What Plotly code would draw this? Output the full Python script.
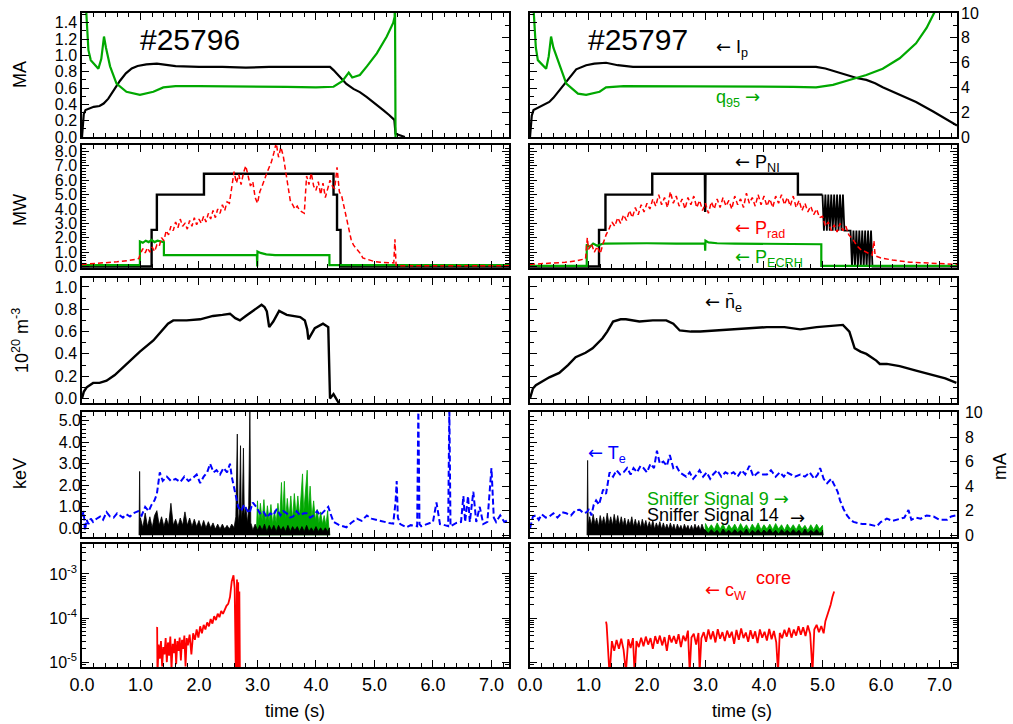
import plotly.graph_objects as go

W, H = 1013, 724
FONT = "Liberation Sans, Arial, Helvetica, sans-serif"
ARROW_FONT = "DejaVu Sans"
BLACK, GREEN, RED, BLUE = "#000000", "#00a800", "#ff0000", "#0000ff"

# ======================= shot #25796 =======================
# plasma current Ip (MA) and q95
t_ip_a = [0.0, 0.03, 0.06, 0.12, 0.2, 0.3, 0.37, 0.45, 0.54, 0.65, 0.75, 0.85, 0.95, 1.1, 1.28,
          1.45, 1.6, 2.0, 2.4, 2.8, 3.2, 3.6, 4.0, 4.24, 4.3, 4.4, 4.52, 4.64, 4.75, 4.87, 5.0,
          5.15, 5.25, 5.34, 5.36, 5.45, 5.52]
ip_a = [0.0, 0.28, 0.33, 0.35, 0.37, 0.38, 0.41, 0.47, 0.57, 0.69, 0.78, 0.84, 0.87, 0.89, 0.9,
        0.88, 0.87, 0.86, 0.86, 0.85, 0.86, 0.86, 0.86, 0.86, 0.82, 0.74, 0.65, 0.59, 0.55, 0.49, 0.42,
        0.33, 0.27, 0.21, 0.04, 0.02, 0.0]
t_q_a = [0.05, 0.08, 0.11, 0.15, 0.2, 0.28, 0.33, 0.376, 0.41, 0.48, 0.59, 0.76, 0.99, 1.22, 1.39,
         1.6, 2.0, 2.5, 3.0, 3.5, 4.0, 4.3, 4.45, 4.56, 4.62, 4.75, 4.87, 5.04, 5.21, 5.32,
         5.345, 5.35, 5.36]
q_a = [12.0, 9.0, 7.0, 6.2, 5.9, 5.5, 6.3, 8.1, 7.2, 5.7, 4.3, 3.65, 3.4, 3.65, 4.0,
       4.1, 4.1, 4.1, 4.05, 4.05, 4.0, 4.05, 4.5, 5.2, 4.8, 5.0, 5.7, 6.75, 8.1, 9.2,
       9.7, 12.0, 0.0]

# heating and radiated power (MW)
t_pni_a = [0.0, 1.19, 1.19, 1.28, 1.28, 2.085, 2.085, 4.30, 4.30, 4.36, 4.36, 4.42, 4.42, 7.3]
pni_a = [0.0, 0.0, 2.55, 2.55, 5.0, 5.0, 6.45, 6.45, 5.0, 5.0, 2.55, 2.55, 0.0, 0.0]
t_pec_a = [0.0, 0.99, 0.99, 1.04, 1.09, 1.14, 1.19, 1.24, 1.29, 1.34, 1.40, 1.40, 1.8, 2.3, 2.7,
           2.99, 2.995, 3.0, 3.05, 3.15, 3.3, 3.6, 4.0, 4.23, 4.23, 7.3]
pec_a = [0.1, 0.1, 1.75, 1.65, 1.8, 1.7, 1.85, 1.7, 1.8, 1.75, 1.7, 0.8, 0.8, 0.8, 0.8,
         0.8, 0.0, 1.05, 0.95, 0.85, 0.8, 0.8, 0.8, 0.8, 0.1, 0.1]
t_prad_a = [0.0, 0.2, 0.4, 0.6, 0.8, 0.97,
            1.00, 1.04, 1.08, 1.12, 1.16, 1.20, 1.24, 1.28, 1.32, 1.36,
            1.40, 1.44, 1.48, 1.52, 1.56, 1.60, 1.64, 1.68, 1.72, 1.76,
            1.80, 1.84, 1.88, 1.92, 1.96, 2.00, 2.04, 2.08, 2.12, 2.16,
            2.20, 2.24, 2.28, 2.32, 2.36, 2.40, 2.44, 2.48, 2.52, 2.56,
            2.60, 2.64, 2.68, 2.72, 2.76, 2.80, 2.84, 2.88, 2.92, 2.96,
            3.00, 3.04, 3.08, 3.12, 3.16, 3.20, 3.24, 3.28, 3.32, 3.36,
            3.40, 3.44, 3.48, 3.52, 3.56, 3.60, 3.64, 3.68, 3.72, 3.76,
            3.80, 3.84, 3.88, 3.92, 3.96, 4.00, 4.04, 4.08, 4.12, 4.16,
            4.20, 4.24, 4.28, 4.32, 4.36, 4.40, 4.44, 4.48, 4.52, 4.56,
            4.60, 4.64, 4.68, 4.72, 4.76, 4.80,
            4.90, 5.00, 5.10, 5.20, 5.33, 5.35, 5.37, 5.45, 6.0, 7.3]
prad_a = [0.15, 0.2, 0.27, 0.33, 0.42, 0.55,
          0.9, 1.25, 0.95, 1.3, 1.0, 1.35, 1.05, 1.5, 1.4, 2.0,
          1.8, 2.5, 2.2, 2.8, 2.5, 3.1, 2.7, 3.3, 2.8, 3.0,
          2.6, 3.2, 2.8, 3.4, 2.9, 3.3, 3.0, 3.5, 3.1, 3.7,
          3.3, 3.9, 3.4, 4.0, 3.7, 4.3, 3.9, 4.5, 4.4, 5.6,
          6.6, 5.8, 6.4, 5.7, 6.5, 7.0, 6.2, 5.6, 5.9, 4.8,
          4.4, 5.2, 5.6, 6.1, 6.5, 6.9, 7.3, 7.9, 8.6, 7.6,
          8.3, 7.7, 6.6, 5.5, 4.6, 4.3, 4.0, 4.2, 3.9, 3.8,
          3.7, 6.3, 5.7, 6.5, 5.6, 5.3, 5.9, 5.0, 5.8, 4.8,
          5.5, 6.0, 5.6, 5.4, 6.9, 5.2, 4.9, 4.2, 3.4, 2.6,
          1.9, 1.5, 1.3, 1.1, 0.9, 0.6,
          0.45, 0.35, 0.3, 0.28, 0.25, 1.9, 0.08, 0.05, 0.05, 0.05]

# line-averaged density (1e20 m^-3)
t_ne_a = [0.0, 0.03, 0.08, 0.19, 0.3, 0.42, 0.56, 0.76, 0.99, 1.22, 1.39, 1.47, 1.56, 1.79, 2.02,
          2.24, 2.4, 2.53, 2.62, 2.7, 2.8, 2.93, 3.07, 3.12, 3.16, 3.2, 3.27, 3.37, 3.5, 3.73,
          3.81, 3.85, 3.87, 3.98, 4.12, 4.21, 4.225, 4.24, 4.3, 4.35, 4.4]
ne_a = [0.0, 0.06, 0.1, 0.14, 0.14, 0.16, 0.21, 0.31, 0.42, 0.52, 0.62, 0.67, 0.70, 0.70, 0.71,
        0.74, 0.75, 0.76, 0.72, 0.70, 0.74, 0.79, 0.84, 0.82, 0.78, 0.64, 0.69, 0.785, 0.75, 0.73,
        0.70, 0.62, 0.53, 0.63, 0.67, 0.64, 0.30, 0.0, 0.04, 0.0, -0.05]

# electron temperature (keV)
t_te_a = [0.0, 0.03, 0.05, 0.08, 0.11, 0.15, 0.19, 0.25, 0.31, 0.36,
          0.42, 0.48, 0.54, 0.6, 0.65, 0.7, 0.76, 0.82, 0.88, 0.96,
          1.02, 1.08, 1.14, 1.19, 1.24, 1.28, 1.33, 1.38, 1.45, 1.52,
          1.6, 1.68, 1.75, 1.82, 1.9, 1.96, 2.02, 2.08, 2.14, 2.19,
          2.25, 2.3, 2.36, 2.42, 2.48, 2.53, 2.56, 2.59, 2.64, 2.67,
          2.72, 2.77, 2.81, 2.86, 2.92, 2.98, 3.04, 3.1, 3.16, 3.22,
          3.27, 3.33, 3.39, 3.44, 3.5, 3.56, 3.61, 3.67, 3.73, 3.79,
          3.84, 3.9, 3.96, 4.02, 4.07, 4.14, 4.21, 4.26, 4.3, 4.4,
          4.52, 4.6, 4.7, 4.78, 4.87, 4.95, 5.04, 5.15, 5.25, 5.32,
          5.36, 5.38, 5.4, 5.44, 5.5, 5.55, 5.62, 5.7, 5.73, 5.75,
          5.77, 5.8, 5.9, 6.0, 6.06, 6.12, 6.2, 6.26, 6.28, 6.3,
          6.4, 6.48, 6.52, 6.55, 6.6, 6.63, 6.69, 6.74, 6.8, 6.86,
          6.93, 7.0, 7.04, 7.08, 7.15, 7.22, 7.3]
te_a = [0.55, 0.8, -0.1, 0.4, 0.2, 0.45, 0.3, 0.45, 0.55, 0.4,
        0.75, 0.55, 0.5, 0.7, 0.6, 0.5, 0.65, 0.55, 0.7, 0.8,
        0.6, 1.0, 0.8, 1.1, 1.3, 1.6, 2.6, 2.2, 2.4, 2.2,
        2.3, 2.15, 2.4, 2.2, 2.35, 2.5, 2.1, 2.4, 2.6, 3.0,
        2.6, 2.7, 2.5, 2.8, 2.6, 3.0, 2.4, 2.0, 1.4, 1.0,
        0.8, 1.1, 0.9, 0.7, 1.2, 1.0, 0.7, 0.8, 0.5, 0.7,
        0.6, 0.9, 0.6, 0.8, 0.7, 0.5, 0.55, 0.8, 0.6, 0.7,
        0.7, 0.5, 0.6, 0.8, 0.6, 0.8, 1.0, 0.6, 0.3, 0.15,
        0.05, 0.25, 0.45, 0.35, 0.6, 0.45, 0.38, 0.3, 0.25, 0.22,
        1.2, 2.2, 0.5, 0.2, 0.1, 0.05, 0.15, 0.1, 0.1, 5.6,
        0.2, 0.1, 0.2, 0.3, 1.2, 0.2, 0.15, 0.1, 5.6, 0.1,
        0.25, 0.3, 1.5, 0.3, 1.5, 0.3, 1.7, 0.3, 1.0, 0.2,
        0.3, 2.8, 0.5, 0.3, 0.6, 0.3, 0.4]

# sniffer probe signals (mA)
t_s14_a = [0.975, 0.985, 0.995,
           1.00, 1.04, 1.08, 1.12, 1.16, 1.20, 1.24, 1.28, 1.32, 1.36,
           1.40, 1.44, 1.48, 1.52, 1.56, 1.60, 1.64, 1.68, 1.72, 1.76,
           1.80, 1.84, 1.88, 1.92, 1.96, 2.00, 2.04, 2.08, 2.12, 2.16,
           2.20, 2.24, 2.28, 2.32, 2.36, 2.40, 2.44, 2.48, 2.52, 2.56,
           2.60, 2.63, 2.655, 2.67, 2.69, 2.71, 2.725, 2.74, 2.76, 2.775,
           2.80, 2.83, 2.85, 2.87, 2.885, 2.90,
           2.92, 2.96, 3.00, 3.04, 3.08, 3.12, 3.16, 3.20, 3.24, 3.28,
           3.32, 3.36, 3.40, 3.44, 3.48, 3.52, 3.56, 3.60, 3.64, 3.68,
           3.72, 3.76, 3.80, 3.84, 3.88, 3.92, 3.96, 4.00, 4.04, 4.08,
           4.12, 4.16, 4.20, 4.23, 4.235]
s14_a = [0.0, 5.2, 0.5,
         1.4, 0.6, 1.8, 0.7, 1.5, 0.6, 1.6, 2.0, 0.8, 1.5,
         0.7, 1.4, 0.8, 2.6, 0.8, 1.3, 0.7, 1.4, 0.8, 1.9,
         0.8, 1.4, 0.7, 1.3, 0.7, 1.2, 0.6, 1.2, 0.6, 1.1,
         0.6, 1.0, 0.5, 0.9, 0.5, 0.9, 0.5, 0.8, 0.5, 0.9,
         0.6, 1.5, 8.25, 1.0, 1.8, 7.3, 1.2, 2.0, 7.1, 1.5,
         2.3, 1.0, 2.4, 10.5, 1.0, 0.8,
         0.4, 0.9, 0.4, 0.8, 0.4, 0.9, 0.3, 0.8, 0.4, 0.8,
         0.3, 0.8, 0.4, 0.7, 0.3, 0.8, 0.3, 0.7, 0.4, 0.7,
         0.3, 0.7, 0.3, 0.8, 0.3, 0.6, 0.3, 0.7, 0.3, 0.6,
         0.3, 0.6, 0.3, 0.6, 0.0]
t_s9_a = [2.98, 3.00, 3.02, 3.05, 3.08, 3.11, 3.14, 3.17, 3.20, 3.23,
          3.26, 3.29, 3.32, 3.35, 3.38, 3.41, 3.43, 3.46, 3.48, 3.51,
          3.54, 3.57, 3.60, 3.63, 3.66, 3.69, 3.72, 3.75, 3.77, 3.79,
          3.82, 3.85, 3.87, 3.90, 3.93, 3.96, 3.99, 4.02, 4.05, 4.08,
          4.11, 4.14, 4.17, 4.20, 4.22, 4.235]
s9_a = [0.0, 2.8, 1.0, 2.6, 1.2, 2.9, 1.0, 2.4, 1.1, 2.5,
        0.9, 2.0, 1.0, 2.6, 1.2, 4.3, 1.5, 4.4, 1.3, 3.0,
        1.4, 3.2, 1.3, 3.4, 1.6, 3.2, 1.5, 4.0, 5.0, 1.8,
        3.6, 5.3, 2.0, 4.0, 1.4, 2.8, 1.2, 2.1, 1.0, 1.9,
        0.9, 1.6, 0.8, 2.0, 0.6, 0.0]

# core tungsten concentration
t_cw_a = [1.28, 1.285, 1.29, 1.31, 1.33, 1.35, 1.37, 1.39, 1.41, 1.43,
          1.45, 1.47, 1.49, 1.51, 1.53, 1.55, 1.57, 1.59, 1.61, 1.63,
          1.65, 1.67, 1.69, 1.71, 1.73, 1.75, 1.77, 1.79, 1.81, 1.84,
          1.87, 1.90, 1.93, 1.96, 1.99, 2.02, 2.05, 2.08, 2.11, 2.14,
          2.17, 2.20, 2.23, 2.26, 2.29, 2.32, 2.35, 2.38, 2.41, 2.44,
          2.47, 2.50, 2.53, 2.56, 2.59, 2.61, 2.63, 2.65, 2.66, 2.67,
          2.68, 2.69, 2.70]
cw_a = [6.0e-5, 6.2e-5, 5e-6, 2.5e-5, 1.2e-5, 3.0e-5, 8e-6, 2.2e-5, 1.5e-5, 3.5e-5,
        1.0e-5, 2.8e-5, 1.4e-5, 3.8e-5, 7e-6, 2.6e-5, 1.6e-5, 3.4e-5, 9e-6, 3.0e-5,
        1.8e-5, 3.6e-5, 1.1e-5, 3.2e-5, 2.0e-5, 4.0e-5, 8e-6, 3.5e-5, 2.4e-5, 4.2e-5,
        1.5e-5, 4.5e-5, 3.2e-5, 5.5e-5, 3.6e-5, 6.5e-5, 4.5e-5, 7.0e-5, 5.5e-5, 8.0e-5,
        6.5e-5, 9.5e-5, 7.5e-5, 1.1e-4, 9.0e-5, 1.25e-4, 1.05e-4, 1.45e-4, 1.25e-4, 1.6e-4,
        1.9e-4, 2.1e-4, 3.0e-4, 6.8e-4, 9.3e-4, 4.7e-4, 5e-6, 7.5e-4, 5e-6, 6.5e-4,
        5e-6, 4.0e-4, 5e-6]

# ======================= shot #25797 =======================
t_ip_b = [0.0, 0.03, 0.06, 0.14, 0.22, 0.33, 0.4, 0.48, 0.62, 0.79, 0.96, 1.1, 1.3, 1.5, 1.76,
          2.2, 2.8, 3.4, 4.0, 4.5, 4.89, 5.05, 5.18, 5.32, 5.46, 5.6, 5.75, 5.9, 6.03, 6.3,
          6.6, 6.9, 7.1, 7.3]
ip_b = [0.0, 0.26, 0.33, 0.36, 0.39, 0.43, 0.48, 0.55, 0.67, 0.83, 0.88, 0.9, 0.91, 0.88, 0.86,
        0.86, 0.86, 0.86, 0.86, 0.86, 0.86, 0.84, 0.81, 0.78, 0.75, 0.72, 0.70, 0.66, 0.61, 0.52,
        0.43, 0.31, 0.22, 0.14]
t_q_b = [0.04, 0.07, 0.1, 0.134, 0.2, 0.276, 0.32, 0.36, 0.4, 0.48, 0.62, 0.82, 0.96, 1.19, 1.3,
         1.6, 2.0, 2.5, 3.0, 3.5, 4.0, 4.5, 4.89, 5.18, 5.46, 5.75, 6.03, 6.32, 6.6, 6.78,
         6.92, 6.97]
q_b = [12.0, 9.5, 7.2, 6.2, 5.9, 5.5, 6.5, 8.1, 7.2, 6.2, 4.3, 3.5, 3.4, 3.65, 4.0,
       4.1, 4.1, 4.1, 4.05, 4.1, 4.05, 4.05, 4.0, 4.2, 4.6, 5.0, 5.5, 6.35, 7.55, 8.8,
       10.1, 11.0]

# NBI power: steady steps, then the modulated phase
t_pni_b = [0.0, 1.18, 1.18, 1.29, 1.29, 2.09, 2.09, 2.99, 2.995, 3.0, 4.58, 4.58, 5.00]
pni_b = [0.0, 0.0, 2.55, 2.55, 5.0, 5.0, 6.45, 6.45, 3.8, 6.45, 6.45, 5.0, 5.0]
t_pni_b_mod = [5.00, 5.025, 5.05, 5.075, 5.10, 5.125, 5.15, 5.175, 5.20, 5.225,
               5.25, 5.275, 5.30, 5.325, 5.35, 5.375, 5.40, 5.46,
               5.48, 5.505, 5.53, 5.555, 5.58, 5.605, 5.63, 5.655, 5.68, 5.705,
               5.73, 5.755, 5.78, 5.805, 5.83, 5.855, 5.87, 7.3]
pni_b_mod = [5.0, 2.5, 5.0, 2.5, 5.0, 2.5, 5.0, 2.5, 5.0, 2.5,
             5.0, 2.5, 5.0, 2.5, 5.0, 2.5, 2.5, 2.5,
             2.5, 0.0, 2.5, 0.0, 2.5, 0.0, 2.5, 0.0, 2.5, 0.0,
             2.5, 0.0, 2.5, 0.0, 2.5, 0.0, 0.0, 0.0]
t_pec_b = [0.0, 0.97, 0.97, 1.02, 1.08, 1.15, 1.25, 1.5, 2.0, 2.5, 2.99, 2.995, 3.0, 3.05, 3.2,
           3.5, 4.0, 4.5, 4.98, 4.98, 7.3]
pec_b = [0.05, 0.05, 1.55, 1.35, 1.6, 1.45, 1.6, 1.62, 1.62, 1.6, 1.6, 1.1, 1.8, 1.68, 1.62,
         1.6, 1.58, 1.55, 1.55, 0.05, 0.05]
t_prad_b = [0.0, 0.3, 0.6, 0.8, 0.95, 0.98,
            1.00, 1.05, 1.10, 1.15, 1.20, 1.25, 1.30, 1.35, 1.40, 1.45,
            1.50, 1.55, 1.60, 1.65, 1.70, 1.75, 1.80, 1.85, 1.90, 1.95,
            2.00, 2.05, 2.10, 2.15, 2.20, 2.25, 2.30, 2.35, 2.40, 2.45,
            2.50, 2.55, 2.60, 2.65, 2.70, 2.75, 2.80, 2.85, 2.90, 2.95,
            3.00, 3.05, 3.10, 3.15, 3.20, 3.25, 3.30, 3.35, 3.40, 3.45,
            3.50, 3.55, 3.60, 3.65, 3.70, 3.75, 3.80, 3.85, 3.90, 3.95,
            4.00, 4.05, 4.10, 4.15, 4.20, 4.25, 4.30, 4.35, 4.40, 4.45,
            4.50, 4.55, 4.60, 4.65, 4.70, 4.75, 4.80, 4.85, 4.90, 4.95,
            5.00, 5.05, 5.10, 5.15, 5.20, 5.25, 5.30, 5.35, 5.40, 5.45,
            5.50, 5.55, 5.60, 5.65, 5.70, 5.75, 5.80, 5.85,
            5.88, 5.90, 6.0, 6.2, 6.5, 7.0, 7.3]
prad_b = [0.15, 0.2, 0.3, 0.4, 0.55, 2.0,
          1.2, 1.6, 1.0, 1.4, 0.9, 1.6, 2.2, 2.6, 3.1, 2.8,
          3.4, 3.0, 3.6, 3.2, 3.9, 3.4, 4.1, 3.6, 4.3, 3.8,
          4.4, 4.0, 4.7, 4.2, 5.0, 4.3, 4.8, 4.1, 5.2, 4.4,
          4.9, 4.2, 4.7, 4.0, 4.8, 4.3, 4.9, 4.1, 4.6, 3.9,
          4.4, 3.7, 4.5, 4.0, 4.7, 4.1, 4.8, 4.2, 4.6, 4.0,
          4.9, 4.3, 4.7, 4.1, 5.1, 4.4, 4.8, 4.2, 5.0, 4.3,
          4.9, 4.2, 4.7, 4.1, 4.9, 4.4, 5.0, 4.3, 4.8, 4.2,
          4.9, 4.1, 4.6, 3.9, 4.4, 3.8, 4.2, 3.6, 4.0, 3.4,
          3.5, 2.8, 3.1, 2.5, 2.9, 2.4, 3.0, 2.5, 2.8, 2.2,
          2.0, 1.7, 1.4, 1.2, 1.1, 1.0, 0.9, 0.8,
          1.8, 0.75, 0.6, 0.45, 0.3, 0.2, 0.15]

t_ne_b = [0.0, 0.05, 0.1, 0.2, 0.33, 0.5, 0.65, 0.78, 0.95, 1.07, 1.24, 1.32, 1.42, 1.55, 1.64,
          1.87, 2.1, 2.33, 2.45, 2.56, 2.75, 2.91, 3.2, 3.48, 3.8, 4.05, 4.35, 4.62, 4.9, 5.1,
          5.35, 5.46, 5.55, 5.65, 5.75, 5.92, 5.98, 6.1, 6.32, 6.6, 6.89, 7.1, 7.29]
ne_b = [0.0, 0.09, 0.12, 0.15, 0.19, 0.23, 0.3, 0.37, 0.41, 0.45, 0.54, 0.6, 0.69, 0.71, 0.71,
        0.69, 0.70, 0.70, 0.67, 0.61, 0.60, 0.60, 0.61, 0.62, 0.63, 0.64, 0.64, 0.62, 0.64, 0.65,
        0.66, 0.60, 0.45, 0.42, 0.40, 0.34, 0.31, 0.31, 0.29, 0.25, 0.21, 0.18, 0.14]

t_te_b = [0.0, 0.05, 0.1, 0.15, 0.2, 0.27, 0.33, 0.4, 0.47, 0.55,
          0.62, 0.7, 0.78, 0.85, 0.92, 0.97, 1.01, 1.05, 1.09, 1.13,
          1.18, 1.25, 1.3, 1.36, 1.42, 1.48, 1.54, 1.6, 1.66, 1.72,
          1.77, 1.83, 1.89, 1.94, 2.0, 2.06, 2.12, 2.17, 2.22, 2.28,
          2.34, 2.39, 2.45, 2.5, 2.56, 2.62, 2.67, 2.73, 2.79, 2.85,
          2.9, 2.96, 3.02, 3.08, 3.13, 3.2, 3.27, 3.34, 3.41, 3.48,
          3.55, 3.62, 3.68, 3.75, 3.82, 3.9, 3.98, 4.05, 4.12, 4.2,
          4.27, 4.34, 4.39, 4.46, 4.53, 4.62, 4.7, 4.78, 4.86, 4.92,
          4.96, 5.02, 5.08, 5.15, 5.22, 5.26, 5.3, 5.36, 5.42, 5.48,
          5.53, 5.6, 5.68, 5.76, 5.85, 5.93, 6.0, 6.1, 6.2, 6.33,
          6.4, 6.47, 6.52, 6.6, 6.68, 6.78, 6.9, 7.0, 7.13, 7.2,
          7.28, 7.3]
te_b = [0.0, 0.55, 0.6, 0.4, 0.65, 0.5, 0.55, 0.7, 0.5, 0.75,
        0.7, 0.6, 0.85, 0.86, 0.7, 0.75, 0.9, 0.6, 1.1, 1.3,
        1.1, 1.8, 1.6, 2.6, 2.4, 2.7, 2.5, 2.6, 2.8, 2.5,
        2.8, 2.6, 2.9, 2.8, 2.6, 3.0, 2.8, 3.6, 3.0, 3.1,
        2.9, 3.4, 2.8, 2.9, 2.6, 2.5, 2.4, 2.6, 2.3, 2.5,
        2.7, 2.4, 2.6, 2.3, 2.5, 2.7, 2.4, 2.6, 2.5, 2.6,
        2.4, 2.7, 2.5, 2.9, 2.4, 2.6, 2.5, 2.5, 2.7, 2.4,
        2.6, 2.4, 2.6, 2.5, 2.4, 2.5, 2.4, 2.6, 2.3, 2.5,
        2.8, 2.3, 2.1, 2.3, 1.9, 1.7, 1.3, 0.9, 0.6, 0.4,
        0.3, 0.25, 0.2, 0.2, 0.15, 0.1, 0.3, 0.45, 0.35, 0.45,
        0.5, 0.85, 0.4, 0.5, 0.45, 0.6, 0.55, 0.4, 0.4, 0.55,
        0.6, 0.5]

t_s14_b = [0.975, 0.985, 0.995,
           1.02, 1.05, 1.08, 1.11, 1.14, 1.17, 1.20, 1.23, 1.26, 1.29,
           1.32, 1.35, 1.38, 1.41, 1.44, 1.47, 1.50, 1.53, 1.56, 1.59,
           1.62, 1.65, 1.68, 1.71, 1.74, 1.77, 1.80, 1.83, 1.86, 1.89,
           1.92, 1.95, 1.98, 2.01, 2.04, 2.07, 2.10, 2.13, 2.16, 2.19,
           2.22, 2.25, 2.28, 2.31, 2.34, 2.37, 2.40, 2.43, 2.46, 2.49,
           2.52, 2.55, 2.58, 2.61, 2.64, 2.67, 2.70, 2.73, 2.76, 2.79,
           2.82, 2.85, 2.88, 2.91, 2.94, 2.97,
           3.00, 3.05, 3.10, 3.15, 3.20, 3.25, 3.30, 3.35, 3.40, 3.45,
           3.50, 3.55, 3.60, 3.65, 3.70, 3.75, 3.80, 3.85, 3.90, 3.95,
           4.00, 4.05, 4.10, 4.15, 4.20, 4.25, 4.30, 4.35, 4.40, 4.45,
           4.50, 4.55, 4.60, 4.65, 4.70, 4.75, 4.80, 4.85, 4.90, 4.95,
           5.00, 5.01]
s14_b = [0.0, 6.1, 0.8,
         1.5, 0.8, 1.7, 0.9, 1.4, 0.7, 1.6, 0.9, 1.5, 0.8,
         1.8, 0.9, 1.5, 0.8, 1.7, 0.9, 1.6, 0.8, 1.5, 0.8,
         1.4, 0.7, 1.3, 0.8, 1.5, 0.7, 1.3, 0.7, 1.2, 0.6,
         1.3, 0.7, 1.2, 0.6, 1.1, 0.6, 1.2, 0.5, 1.0, 0.6,
         1.1, 0.5, 1.0, 0.5, 0.9, 0.5, 1.0, 0.5, 0.9, 0.4,
         0.9, 0.5, 0.8, 0.4, 0.9, 0.5, 0.8, 0.4, 0.8, 0.4,
         0.9, 0.5, 0.8, 0.4, 0.9, 0.5,
         0.4, 0.15, 0.45, 0.2, 0.4, 0.1, 0.5, 0.2, 0.4, 0.15,
         0.45, 0.2, 0.4, 0.15, 0.5, 0.1, 0.4, 0.2, 0.45, 0.15,
         0.4, 0.2, 0.5, 0.15, 0.4, 0.1, 0.45, 0.2, 0.4, 0.15,
         0.45, 0.2, 0.4, 0.1, 0.5, 0.15, 0.4, 0.2, 0.45, 0.15,
         0.3, 0.0]
t_s9_b = [2.99,
          3.00, 3.05, 3.10, 3.15, 3.20, 3.25, 3.30, 3.35, 3.40, 3.45,
          3.50, 3.55, 3.60, 3.65, 3.70, 3.75, 3.80, 3.85, 3.90, 3.95,
          4.00, 4.05, 4.10, 4.15, 4.20, 4.25, 4.30, 4.35, 4.40, 4.45,
          4.50, 4.55, 4.60, 4.65, 4.70, 4.75, 4.80, 4.85, 4.90, 4.95,
          5.00, 5.01]
s9_b = [0.0,
        0.95, 0.5, 0.85, 0.45, 1.0, 0.5, 0.9, 0.4, 0.85, 0.5,
        0.9, 0.45, 0.95, 0.5, 0.85, 0.4, 0.9, 0.5, 1.0, 0.45,
        0.85, 0.5, 0.9, 0.45, 0.95, 0.5, 0.85, 0.4, 0.9, 0.5,
        0.85, 0.45, 0.9, 0.5, 0.8, 0.4, 0.85, 0.45, 0.9, 0.5,
        0.8, 0.0]

t_cw_b = [1.30, 1.31, 1.33, 1.36, 1.40, 1.44, 1.48, 1.52, 1.56, 1.60,
          1.64, 1.68, 1.72, 1.76, 1.79, 1.82, 1.86, 1.90, 1.94, 1.98,
          2.02, 2.06, 2.10, 2.14, 2.18, 2.22, 2.26, 2.30, 2.34, 2.38,
          2.42, 2.46, 2.50, 2.54, 2.58, 2.62, 2.66, 2.70, 2.73, 2.76,
          2.80, 2.84, 2.88, 2.90, 2.93, 2.97, 3.01, 3.05, 3.09, 3.13,
          3.17, 3.21, 3.25, 3.29, 3.33, 3.37, 3.41, 3.45, 3.49, 3.53,
          3.57, 3.61, 3.65, 3.69, 3.73, 3.77, 3.81, 3.85, 3.89, 3.93,
          3.97, 4.01, 4.05, 4.09, 4.13, 4.17, 4.21, 4.24, 4.27, 4.31,
          4.35, 4.39, 4.43, 4.47, 4.51, 4.55, 4.59, 4.63, 4.67, 4.71,
          4.75, 4.79, 4.83, 4.86, 4.90, 4.94, 4.98, 5.02, 5.05, 5.08,
          5.11, 5.14, 5.17, 5.20]
cw_b = [8.3e-5, 7.0e-5, 2.5e-5, 5e-6, 3.0e-5, 1.8e-5, 3.2e-5, 2.0e-5, 3.4e-5, 1.9e-5,
        6e-6, 3.3e-5, 2.1e-5, 3.5e-5, 5e-6, 3.0e-5, 2.2e-5, 3.6e-5, 2.3e-5, 3.8e-5,
        2.5e-5, 3.5e-5, 2.0e-5, 3.9e-5, 2.6e-5, 4.0e-5, 2.4e-5, 3.7e-5, 1.8e-5, 4.1e-5,
        2.8e-5, 3.9e-5, 2.6e-5, 4.3e-5, 2.2e-5, 4.0e-5, 3.0e-5, 5.2e-5, 6e-6, 3.6e-5,
        4.4e-5, 2.5e-5, 4.6e-5, 6e-6, 3.5e-5, 4.8e-5, 2.9e-5, 5.5e-5, 3.3e-5, 5.0e-5,
        2.8e-5, 5.6e-5, 3.4e-5, 4.8e-5, 3.0e-5, 5.2e-5, 3.6e-5, 4.9e-5, 2.6e-5, 5.4e-5,
        3.2e-5, 5.8e-5, 3.5e-5, 4.7e-5, 2.9e-5, 5.3e-5, 3.4e-5, 5.0e-5, 2.7e-5, 5.5e-5,
        3.6e-5, 4.9e-5, 3.1e-5, 5.7e-5, 3.3e-5, 5.1e-5, 2.8e-5, 6e-6, 4.6e-5, 3.5e-5,
        5.4e-5, 3.8e-5, 6.0e-5, 3.6e-5, 5.5e-5, 4.0e-5, 6.5e-5, 4.2e-5, 6.2e-5, 3.9e-5,
        6.8e-5, 4.4e-5, 6e-6, 5.5e-5, 7.0e-5, 4.8e-5, 6.6e-5, 4.5e-5, 8.5e-5, 1.1e-4,
        1.5e-4, 2.0e-4, 3.0e-4, 4.0e-4]

# ---------------- consistency of the series ----------------
for name, xs, ys in [("ip_a", t_ip_a, ip_a), ("q_a", t_q_a, q_a), ("pni_a", t_pni_a, pni_a),
                     ("pec_a", t_pec_a, pec_a), ("prad_a", t_prad_a, prad_a), ("ne_a", t_ne_a, ne_a),
                     ("te_a", t_te_a, te_a), ("s14_a", t_s14_a, s14_a), ("s9_a", t_s9_a, s9_a),
                     ("cw_a", t_cw_a, cw_a), ("ip_b", t_ip_b, ip_b), ("q_b", t_q_b, q_b),
                     ("pni_b", t_pni_b, pni_b), ("pni_b_mod", t_pni_b_mod, pni_b_mod),
                     ("pec_b", t_pec_b, pec_b), ("prad_b", t_prad_b, prad_b),
                     ("ne_b", t_ne_b, ne_b), ("te_b", t_te_b, te_b), ("s14_b", t_s14_b, s14_b),
                     ("s9_b", t_s9_b, s9_b), ("cw_b", t_cw_b, cw_b)]:
    if len(xs) != len(ys):
        raise ValueError(f"{name}: {len(xs)} times vs {len(ys)} values")

# ---------------- panel geometry (pixels) ----------------
COLS = [(82, 509), (530, 957)]
ROWS = [(13, 137), (145, 268), (278, 403), (412, 537), (544, 667)]


def dom_x(c):
    a, b = COLS[c]
    return [a / W, b / W]


def dom_y(r):
    a, b = ROWS[r]
    return [1 - b / H, 1 - a / H]


def aid(prefix, n):
    return prefix if n == 1 else f"{prefix}{n}"


def key(prefix, n):
    return f"{prefix}axis" if n == 1 else f"{prefix}axis{n}"


TICKFONT = dict(family=FONT, size=16, color="black")


def base_axis(**kw):
    d = dict(showline=True, linecolor="black", linewidth=1.5, ticks="inside", tickcolor="black",
             tickwidth=1.2, ticklen=7, showgrid=False, zeroline=False, tickfont=TICKFONT,
             fixedrange=True, ticklabelstandoff=0, automargin=False)
    d.update(kw)
    return d


def minor(dtick):
    return dict(ticks="inside", dtick=dtick, tick0=0, ticklen=4, tickcolor="black", tickwidth=1)


layout = dict(template="none", width=W, height=H, margin=dict(l=0, r=0, t=0, b=0, pad=0),
              paper_bgcolor="white", plot_bgcolor="white", showlegend=False,
              font=dict(family=FONT, size=16, color="black"))

log_minor = [m * 10.0 ** e for e in (-6, -5, -4, -3) for m in range(2, 10)]

for r in range(5):
    for c in range(2):
        n = 2 * r + c + 1
        layout[key("x", n)] = base_axis(
            domain=dom_x(c), anchor=aid("y", n), range=[0, 7.3], tick0=0, dtick=1, tickformat=".1f",
            mirror="ticks", showticklabels=(r == 4), minor=minor(0.2),
            tickfont=dict(family=FONT, size=18, color="black"), ticklabelstandoff=1)
        left_labels = (c == 0)
        if r == 0:
            ya = base_axis(domain=dom_y(r), anchor=aid("x", n), range=[0, 1.52], dtick=0.2, tick0=0,
                           tickformat=".1f", minor=minor(0.1), mirror=True, showticklabels=left_labels)
        elif r == 1:
            ya = base_axis(domain=dom_y(r), anchor=aid("x", n), range=[-0.1, 8.45], dtick=1, tick0=0,
                           tickformat=".1f", minor=minor(0.2), mirror="ticks", showticklabels=left_labels)
        elif r == 2:
            ya = base_axis(domain=dom_y(r), anchor=aid("x", n), range=[-0.04, 1.08], dtick=0.2, tick0=0,
                           tickformat=".1f", minor=minor(0.1), mirror="ticks", showticklabels=left_labels)
        elif r == 3:
            # sniffer current axis (right side); Te axis overlays it on the left
            ya = base_axis(domain=dom_y(r), anchor=aid("x", n), side="right", range=[-0.15, 10.05],
                           dtick=2, tick0=0, minor=minor(1), mirror=True, showticklabels=(c == 1),
                           ticklabelstandoff=3)
        else:
            ya = base_axis(domain=dom_y(r), anchor=aid("x", n), type="log", range=[-5.11, -2.32],
                           tickmode="array", tickvals=[1e-5, 1e-4, 1e-3],
                           ticktext=["10<sup>-5</sup>", "10<sup>-4</sup>", "10<sup>-3</sup>"],
                           minor=dict(ticks="inside", tickmode="array", tickvals=log_minor, ticklen=4,
                                      tickcolor="black", tickwidth=1),
                           mirror="ticks", showticklabels=left_labels)
        layout[key("y", n)] = ya

# q95 axes (right) for row 1, Te axes (left) for row 4
for c in range(2):
    n = 1 + c
    layout[key("y", 11 + c)] = base_axis(
        domain=dom_y(0), anchor=aid("x", n), overlaying=aid("y", n), side="right", range=[0, 10],
        dtick=2, tick0=0, minor=minor(1), showline=False, showticklabels=(c == 1), ticklabelstandoff=3)
    n = 7 + c
    layout[key("y", 13 + c)] = base_axis(
        domain=dom_y(3), anchor=aid("x", n), overlaying=aid("y", n), side="left", range=[-0.4, 5.4],
        dtick=1, tick0=0, tickformat=".1f", minor=minor(0.2), showline=False, showticklabels=(c == 0))


def line(x, y, n, color, width=2.0, dash="solid", yaxis=None, fill=None):
    return go.Scatter(x=x, y=y, mode="lines", xaxis=aid("x", n), yaxis=yaxis or aid("y", n),
                      line=dict(color=color, width=width, dash=dash), fill=fill,
                      fillcolor=color if fill else None, hoverinfo="skip")


traces = []
shots = [
    dict(ip=(t_ip_a, ip_a), q=(t_q_a, q_a), pni=(t_pni_a, pni_a), pec=(t_pec_a, pec_a),
         prad=(t_prad_a, prad_a), ne=(t_ne_a, ne_a), te=(t_te_a, te_a), s14=(t_s14_a, s14_a),
         s9=(t_s9_a, s9_a), cw=(t_cw_a, cw_a)),
    dict(ip=(t_ip_b, ip_b), q=(t_q_b, q_b), pni=(t_pni_b, pni_b), pec=(t_pec_b, pec_b),
         prad=(t_prad_b, prad_b), ne=(t_ne_b, ne_b), te=(t_te_b, te_b), s14=(t_s14_b, s14_b),
         s9=(t_s9_b, s9_b), cw=(t_cw_b, cw_b)),
]
for c, s in enumerate(shots):
    traces.append(line(*s["ip"], 1 + c, BLACK, 2.2))
    traces.append(line(*s["q"], 1 + c, GREEN, 2.2, yaxis=aid("y", 11 + c)))
    traces.append(line(*s["pni"], 3 + c, BLACK, 2.4))
    if c == 1:
        traces.append(line(t_pni_b_mod, pni_b_mod, 4, BLACK, 1.8))
    traces.append(line(*s["pec"], 3 + c, GREEN, 2.2))
    traces.append(line(*s["prad"], 3 + c, RED, 1.5, dash="5px,3px"))
    traces.append(line(*s["ne"], 5 + c, BLACK, 2.4))
    traces.append(line(*s["s9"], 7 + c, GREEN, 0.8, fill="tozeroy"))
    traces.append(line(*s["s14"], 7 + c, BLACK, 0.8, fill="tozeroy"))
    traces.append(line(*s["te"], 7 + c, BLUE, 2.0, dash="6px,3px", yaxis=aid("y", 13 + c)))
    traces.append(line(*s["cw"], 9 + c, RED, 1.8))


def label(text, x, y, color="black", size=18, xanchor="left", yanchor="middle", angle=0):
    return dict(text=text, x=x / W, y=1 - y / H, xref="paper", yref="paper", showarrow=False,
                xanchor=xanchor, yanchor=yanchor, textangle=angle,
                font=dict(family=FONT, size=size, color=color))


LA = f'<span style="font-family:{ARROW_FONT}">\u2190</span>'
RA = f'<span style="font-family:{ARROW_FONT}">\u2192</span>'

annotations = [
    label("#25796", 138, 40, size=30),
    label("#25797", 586, 40, size=30),
    label(f"{LA} I<sub>p</sub>", 714, 48),
    label(f"q<sub>95</sub> {RA}", 714, 98, color=GREEN),
    label(f"{LA} P<sub>NI</sub>", 733, 163),
    label(f"{LA} P<sub>rad</sub>", 733, 229, color=RED),
    label(f"{LA} P<sub>ECRH</sub>", 733, 258, color=GREEN),
    label(f"{LA} n\u0304<sub>e</sub>", 703, 303),
    label(f"{LA} T<sub>e</sub>", 586, 454, color=BLUE),
    label(f"Sniffer Signal 9 {RA}", 645, 498, color=GREEN),
    label("Sniffer Signal 14", 645, 515),
    label(RA, 788, 517),
    label(f"{LA} c<sub>W</sub>", 703, 591, color=RED),
    label("core", 754, 578, color=RED),
    label("MA", 20, 75, angle=-90, xanchor="center"),
    label("MW", 20, 210, angle=-90, xanchor="center"),
    label("10<sup>20</sup> m<sup>-3</sup>", 20, 341, angle=-90, xanchor="center"),
    label("keV", 20, 474, angle=-90, xanchor="center"),
    label("mA", 1000, 467, angle=-90, xanchor="center"),
    label("time (s)", 295, 711, xanchor="center"),
    label("time (s)", 742, 711, xanchor="center"),
]
layout["annotations"] = annotations

fig = go.Figure(data=traces, layout=layout)
fig.write_html("out.html")
